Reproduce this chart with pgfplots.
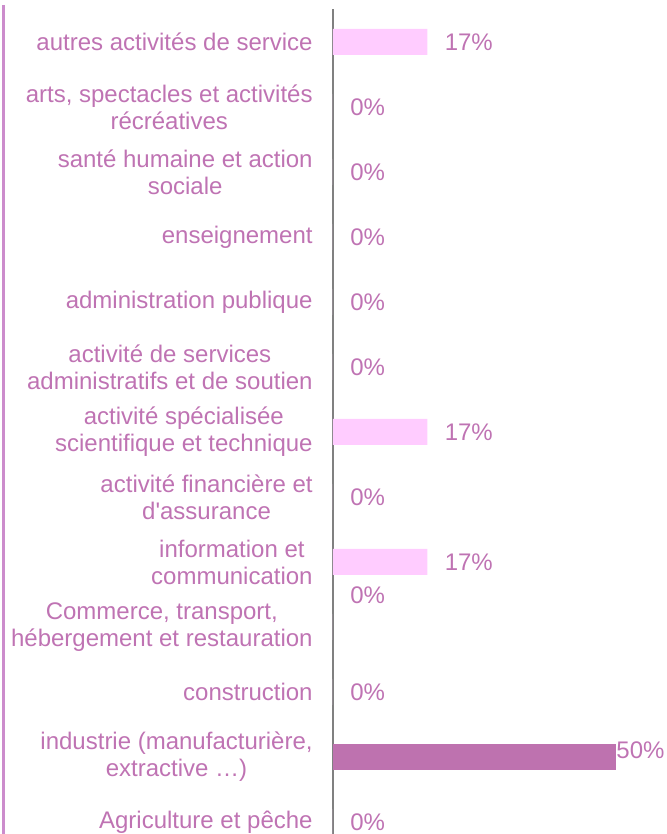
\documentclass[border=0pt]{standalone}
\usepackage{fontspec}
\setmainfont{Liberation Sans}[Ligatures=TeXOff]
\usepackage{pgfplots}
\pgfplotsset{compat=1.18}
\definecolor{txtpink}{RGB}{191,115,179}
\definecolor{lightbar}{RGB}{255,204,255}
\definecolor{darkbar}{RGB}{190,114,175}
\definecolor{framepink}{RGB}{204,140,204}
\begin{document}
\begin{tikzpicture}
\begin{axis}[name=ax,
  scale only axis, width=167pt, height=412.25pt,
  xmin=0, xmax=59, ymin=-0.185, ymax=12.5,
  axis x line=none, axis y line*=left,
  y axis line style={draw=gray, line width=1pt},
  xbar, bar width=13pt, bar shift=0pt,
  ytick={0,...,12}, major tick length=0pt,
  yticklabels={
    {Agriculture et pêche},
    {industrie (manufacturière,\\extractive …)},
    {construction},
    {Commerce, transport,\\hébergement et restauration},
    {information et\\communication},
    {activité financière et\\d'assurance},
    {activité spécialisée\\scientifique et technique},
    {activité de services\\administratifs et de soutien},
    {administration publique},
    {enseignement},
    {santé humaine et action\\sociale},
    {arts, spectacles et activités\\récréatives},
    {autres activités de service}},
  yticklabel style={align=center, inner sep=0pt, text=txtpink,
    font=\fontsize{12}{13.5}\selectfont},
  yticklabel shift=10pt,
  clip=false,
  point meta=x,
  nodes near coords={\pgfmathprintnumber[fixed,precision=0,assume math mode=true]{\pgfplotspointmeta}\%},
  every node near coord/.append style={anchor=west, inner sep=0pt,
    text=txtpink, font=\fontsize{12}{13.5}\selectfont},
  visualization depends on={\thisrow{dy} \as \dy},
]
\addplot[fill=lightbar, draw=none,
  nodes near coords style={xshift=8.5pt, yshift=\dy pt}] table[x=v, y=c] {
c  v      dy
0  0      0
2  0      0
3  0      16
4  16.67  0
5  0      0
6  16.67  0
7  0      0
8  0      0
9  0      0
10 0      0
11 0      0
12 16.67  0
};
\addplot[fill=darkbar, draw=none,
  nodes near coords style={xshift=0pt, yshift=\dy pt}] table[x=v, y=c] {
c  v   dy
1  50  3.5
};
\end{axis}
\draw[framepink, line width=1.5pt]
  ([xshift=-164.5pt, yshift=2.25pt]ax.north west) -- ([xshift=-164.5pt]ax.south west);
\pgfresetboundingbox
\path ([xshift=-166.5pt]ax.south west) rectangle ([yshift=4.75pt]ax.north east);
\end{tikzpicture}
\end{document}
